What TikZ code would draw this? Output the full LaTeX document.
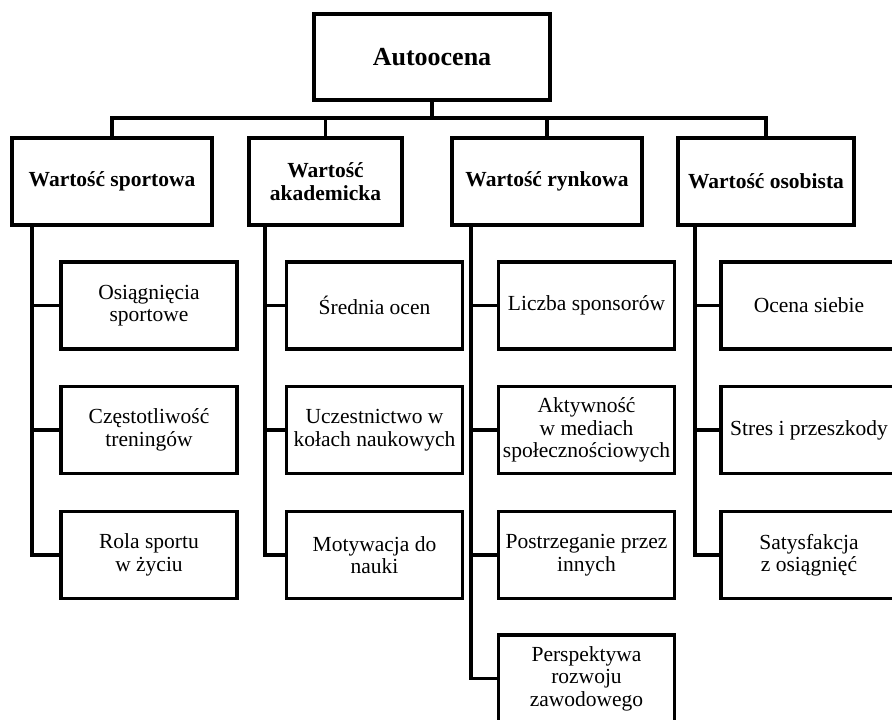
\documentclass[tikz,border=0pt]{standalone}
\usepackage{fontspec}
\setmainfont{Liberation Serif}
\begin{document}
\begin{tikzpicture}[x=1pt,y=-1pt,
  line width=3.6pt, line join=miter,
  box/.style={draw, rectangle, inner sep=0pt, align=center},
  rootbox/.style={box, minimum width=236pt, minimum height=86pt,
    font=\fontsize{26}{30}\selectfont\bfseries},
  catbox/.style={box, minimum height=87pt,
    font=\fontsize{21.5}{23}\selectfont\bfseries},
  leafbox/.style={box, minimum width=176pt, minimum height=87pt,
    font=\fontsize{21.5}{22.5}\selectfont}]
\useasboundingbox (0,0) rectangle (892,720);
\clip (0,0) rectangle (892,720);

% root
\node[rootbox] (root) at (432,57) {Autoocena};

% categories
\node[catbox, minimum width=200pt] (sp) at (112,181.5) {Wartość sportowa};
\node[catbox, minimum width=153pt] (ak) at (325.5,181.5) {Wartość\\akademicka};
\node[catbox, minimum width=190pt] (ry) at (547,181.5) {Wartość rynkowa};
\node[catbox, minimum width=176pt] (os) at (766,181.5) {Wartość osobista};

% root -> categories
\coordinate (hub) at (432,118);
\draw (root.south) -- (hub);
\draw (hub) -| (sp.north);
\draw (hub) -| (ak.north);
\draw (hub) -| (ry.north);
\draw (hub) -| (os.north);

% leaves: sportowa
\node[leafbox] (sp1) at (149,305.5) {Osiągnięcia\\sportowe};
\node[leafbox] (sp2) at (149,430) {Częstotliwość\\treningów};
\node[leafbox] (sp3) at (149,555) {Rola sportu\\w życiu};

% leaves: akademicka
\node[leafbox] (ak1) at (374.5,305.5) {Średnia ocen};
\node[leafbox] (ak2) at (374.5,430) {Uczestnictwo w\\kołach naukowych};
\node[leafbox] (ak3) at (374.5,555) {Motywacja do\\nauki};

% leaves: rynkowa
\node[leafbox] (ry1) at (586.5,305.5) {Liczba sponsorów};
\node[leafbox] (ry2) at (586.5,430) {Aktywność\\w mediach\\społecznościowych};
\node[leafbox] (ry3) at (586.5,555) {Postrzeganie przez\\innych};
\node[leafbox] (ry4) at (586.5,678.5) {Perspektywa\\rozwoju\\zawodowego};

% leaves: osobista
\node[leafbox] (os1) at (809,305.5) {Ocena siebie};
\node[leafbox] (os2) at (809,430) {Stres i przeszkody};
\node[leafbox] (os3) at (809,555) {Satysfakcja\\z osiągnięć};

% spines
\coordinate (spT) at (32,225);
\coordinate (akT) at (265,225);
\coordinate (ryT) at (471,225);
\coordinate (osT) at (695,225);

\draw (spT) |- (sp3.west);
\draw (spT |- sp1.west) -- (sp1.west);
\draw (spT |- sp2.west) -- (sp2.west);

\draw (akT) |- (ak3.west);
\draw (akT |- ak1.west) -- (ak1.west);
\draw (akT |- ak2.west) -- (ak2.west);

\draw (ryT) |- (ry4.west);
\draw (ryT |- ry1.west) -- (ry1.west);
\draw (ryT |- ry2.west) -- (ry2.west);
\draw (ryT |- ry3.west) -- (ry3.west);

\draw (osT) |- (os3.west);
\draw (osT |- os1.west) -- (os1.west);
\draw (osT |- os2.west) -- (os2.west);
\end{tikzpicture}
\end{document}
